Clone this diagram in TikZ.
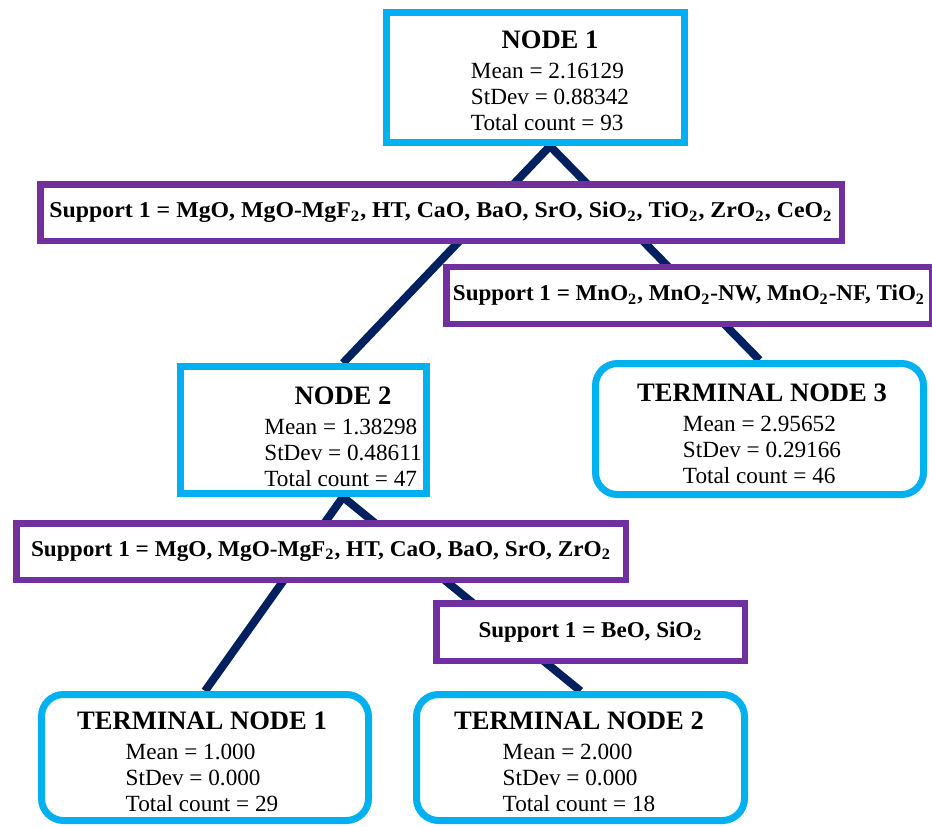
\documentclass[tikz,border=0pt]{standalone}
\usepackage{fontspec}
\setmainfont{Liberation Serif}
\usepackage{graphicx}
\usetikzlibrary{positioning,backgrounds}
\definecolor{Cyan}{HTML}{00B0F0}
\definecolor{Plum}{HTML}{7030A0}
\definecolor{Navy}{HTML}{002060}
\newcommand{\Otwo}{O\textsubscript{2}}
\newcommand{\nodetitle}[1]{{\fontsize{13.3}{15}\selectfont\bfseries #1}}
\newcommand{\stats}[3]{\begin{tabular}[t]{@{}l@{}}Mean = #1\\StDev = #2\\Total count = #3\end{tabular}}
\newcommand{\splitrule}[2]{\resizebox{#1}{\height}{Support 1 = #2}}

\begin{document}
\begin{tikzpicture}[
  x=0.5pt,y=0.5pt,
  every node/.style={font=\fontsize{11.6}{13}\selectfont},
  nodebox/.style={draw=Cyan,line width=3.5pt,fill=white,inner sep=0pt},
  leafbox/.style={nodebox,rounded corners=11pt},
  splitbox/.style={draw=Plum,line width=3.25pt,fill=white,inner xsep=0pt,font=\fontsize{11.3}{13}\selectfont\bfseries},
  stat/.style={align=center,inner sep=0pt},
  branch/.style={draw=Navy,line width=4pt}
]
\useasboundingbox (0,0) rectangle (932,-826);

% inner nodes of the tree
\node[nodebox,minimum width=149pt,minimum height=65pt] (n1) at (535.5,-77.5) {};
\node[stat] (n1txt) at (550,-85) {\nodetitle{NODE 1}\\[2pt]\stats{2.16129}{0.88342}{93}};
\node[nodebox,minimum width=123pt,minimum height=63.5pt] (n2) at (303.5,-430) {};
\node[stat] (n2txt) at (343,-441) {\nodetitle{NODE 2}\\[2pt]\stats{1.38298}{0.48611}{47}};

% terminal nodes
\node[leafbox,minimum width=164pt,minimum height=65.5pt] (t3) at (759.5,-429) {};
\node[stat] (t3txt) at (762,-438) {\nodetitle{TERMINAL NODE 3}\\[2pt]\stats{2.95652}{0.29166}{46}};
\node[leafbox,minimum width=163.5pt,minimum height=63pt] (t1) at (205,-757.5) {};
\node[stat] (t1txt) at (202,-766) {\nodetitle{TERMINAL NODE 1}\\[2pt]\stats{1.000}{0.000}{29}};
\node[leafbox,minimum width=164pt,minimum height=63pt] (t2) at (580.5,-757.5) {};
\node[stat] (t2txt) at (579,-766) {\nodetitle{TERMINAL NODE 2}\\[2pt]\stats{2.000}{0.000}{18}};

% split rules
\node[splitbox,minimum width=400.75pt,minimum height=28.25pt] (s1) at (441,-212.5)
  {\splitrule{391.5pt}{MgO, MgO-MgF\textsubscript{2}, HT, CaO, BaO, SrO, Si\Otwo, Ti\Otwo, Zr\Otwo, Ce\Otwo}};
\node[splitbox,minimum width=242.75pt,minimum height=28.5pt] (s2) at (689,-295.5)
  {\splitrule{236pt}{Mn\Otwo, Mn\Otwo-NW, Mn\Otwo-NF, Ti\Otwo}};
\node[splitbox,minimum width=304.75pt,minimum height=28.25pt] (s3) at (321,-551.5)
  {\splitrule{290pt}{MgO, MgO-MgF\textsubscript{2}, HT, CaO, BaO, SrO, Zr\Otwo}};
\node[splitbox,minimum width=154.25pt,minimum height=28.75pt] (s4) at (590.5,-632)
  {\splitrule{112pt}{BeO, Si\Otwo}};

\begin{scope}[on background layer]
\fill[white] (0,0) rectangle (932,-826);
\draw[branch] (n1txt |- n1.south) -- (n2txt |- n2.north);
\draw[branch] (n1txt |- n1.south) -- (t3.north);
\draw[branch] (n2txt |- n2.south) -- (t1.north);
\draw[branch] (n2txt |- n2.south) -- (t2.north);
\end{scope}
\end{tikzpicture}
\end{document}
